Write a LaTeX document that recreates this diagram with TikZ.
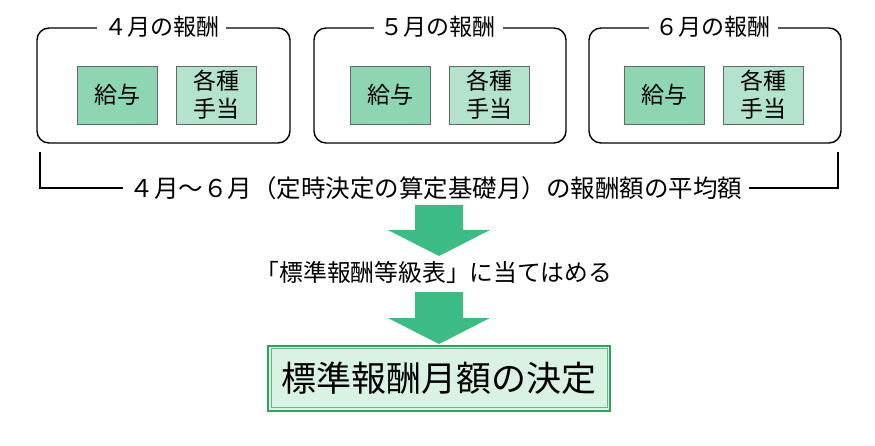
\documentclass[tikz,border=0pt]{standalone}
\usepackage{fontspec}
\setmainfont{Noto Sans CJK JP}
\definecolor{arrowgreen}{HTML}{3DBB84}
\definecolor{payfill}{HTML}{8ED6B3}
\definecolor{allowfill}{HTML}{B3E3CC}
\definecolor{finalborder}{HTML}{2EA45A}
\definecolor{finalfill}{HTML}{DAF2E4}
\begin{document}
\begin{tikzpicture}[x=1pt,y=-1pt,
  monthbox/.style={draw=black,line width=1.4pt,rounded corners=12pt},
  paybox/.style={draw=gray!80!black,line width=0.8pt,fill=payfill,minimum width=80pt,minimum height=58pt,inner sep=0pt,font=\fontsize{23}{28}\selectfont,align=center},
  allowbox/.style={paybox,fill=allowfill},
  title/.style={fill=white,inner xsep=7pt,inner ysep=0pt,font=\fontsize{23}{27}\selectfont},
  bigarrow/.style={fill=arrowgreen,draw=none},
  plain/.style={font=\fontsize{24.5}{28}\selectfont,inner xsep=7pt}
]
\useasboundingbox (0,0) rectangle (875,446);
% month boxes
\foreach \i/\xl/\xr/\lab in {1/37/290/４月の報酬,2/314/566/５月の報酬,3/589/841/６月の報酬}{
  \draw[monthbox] (\xl,28) rectangle (\xr,143);
  \node[title] (t\i) at ({(\xl+\xr)/2-2},27) {\lab};
}
\node[paybox] (p1) at (117,95) {給与};
\node[allowbox] (a1) at (216.5,95) {各種\\手当};
\node[paybox] (p2) at (390,95) {給与};
\node[allowbox] (a2) at (489.5,95) {各種\\手当};
\node[paybox] (p3) at (664,95) {給与};
\node[allowbox] (a3) at (763.5,95) {各種\\手当};
% bracket
\node[plain] (avg) at (436,188) {４月～６月（定時決定の算定基礎月）の報酬額の平均額};
\coordinate (bl) at (40,152);
\coordinate (br) at (838,152);
\draw[line width=1.2pt] (bl) |- (avg.west);
\draw[line width=1.2pt] (br) |- (avg.east);
% arrows
\fill[bigarrow] (415,205) -- (463,205) -- (463,230) -- (490,230) -- (439,256) -- (388,230) -- (415,230) -- cycle;
\node[plain,font=\fontsize{23.8}{28}\selectfont] (fit) at (434,272) {「標準報酬等級表」に当てはめる};
\fill[bigarrow] (415,292) -- (463,292) -- (463,318) -- (490,318) -- (439,344) -- (388,318) -- (415,318) -- cycle;
% final
\node[draw=finalborder,line width=2pt,fill=finalfill,minimum width=342pt,minimum height=65pt,font=\fontsize{35}{40}\selectfont] (final) at (439,378) {標準報酬月額の決定};
\draw[finalborder!75,line width=0.8pt] ([shift={(4,-4)}]final.south west) rectangle ([shift={(-4,4)}]final.north east);
\end{tikzpicture}
\end{document}
